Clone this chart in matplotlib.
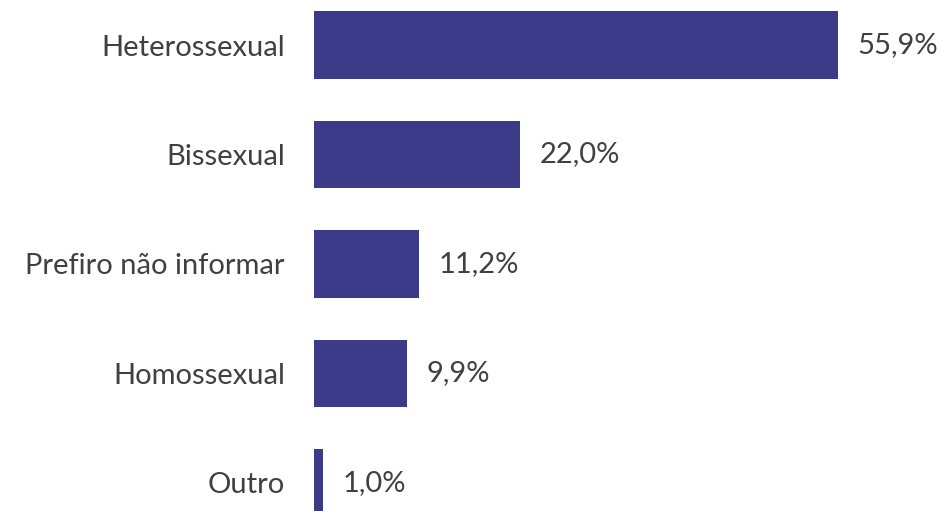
import matplotlib.pyplot as plt

categorias = ["Heterossexual", "Bissexual", "Prefiro não informar", "Homossexual", "Outro"]
valores = [55.9, 22.0, 11.2, 9.9, 1.0]
rotulos = ["55,9%", "22,0%", "11,2%", "9,9%", "1,0%"]

plt.rcParams['font.family'] = ['Lato', 'DejaVu Sans']

fig = plt.figure(figsize=(9.41, 5.11), dpi=100)
ax = fig.add_axes([314 / 941, 0, 1 - 314 / 941, 1])

pos = list(range(len(categorias)))
ax.barh(pos, valores, height=0.62, color="#3c3b8a")

for p, v, r in zip(pos, valores, rotulos):
    ax.annotate(r, (v, p), xytext=(14, 0), textcoords="offset points",
                va="center", ha="left", fontsize=21, color="#404040")

ax.set_yticks(pos)
ax.set_yticklabels(categorias, fontsize=21, color="#404040")
ax.tick_params(axis="y", length=0, pad=21)
ax.set_xticks([])
ax.set_xlim(0, 627 / 9.37)
ax.set_ylim(4.256, -0.411)
for s in ax.spines.values():
    s.set_visible(False)

fig.savefig("out.png", dpi=100)
